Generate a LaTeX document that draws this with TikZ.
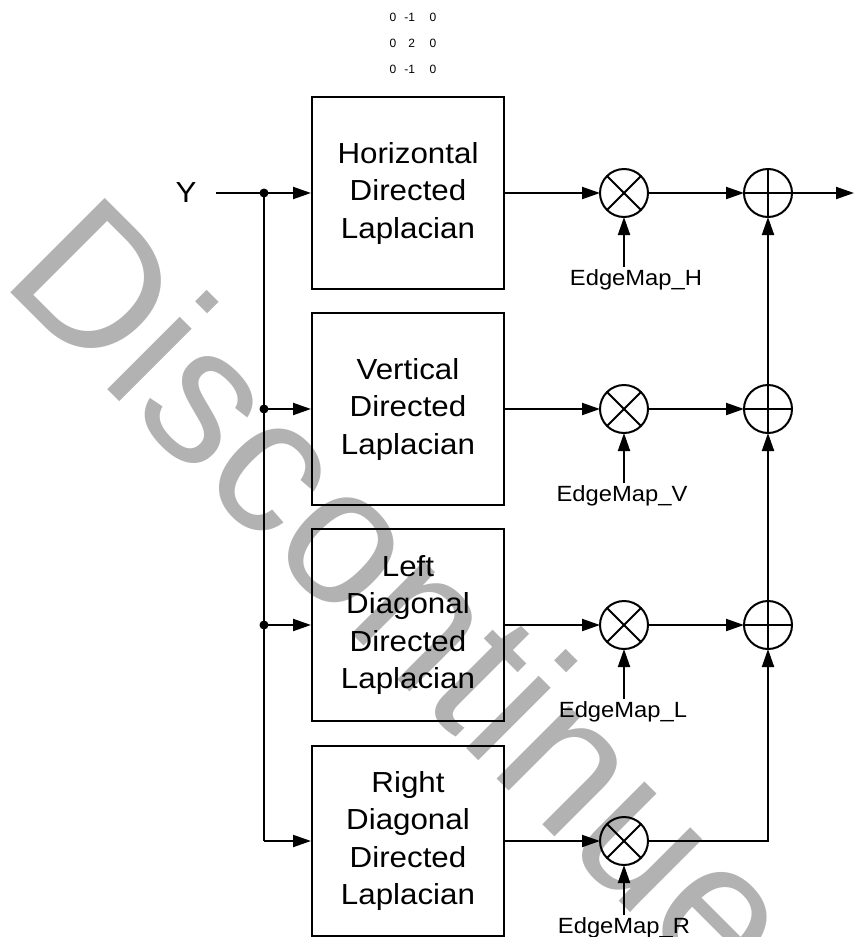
\documentclass[tikz,border=0pt]{standalone}
\usepackage{fontspec}
\setmainfont{Liberation Sans}
\newfontfamily\boxfont[FakeStretch=1.08]{Liberation Sans}
\usetikzlibrary{arrows.meta}
\definecolor{wmgray}{gray}{0.7}
\begin{document}
\begin{tikzpicture}[x=1pt,y=-1pt,line width=2pt,
  arr/.style={-{Triangle[length=18pt,width=12pt]}},
  lap/.style={draw, minimum width=192pt, minimum height=192pt, inner sep=0pt, align=center,
    font=\boxfont\fontsize{29}{37.5}\selectfont},
  opcirc/.style={draw, circle, minimum size=48pt, inner sep=0pt, outer sep=0pt},
  elbl/.style={anchor=base, inner sep=1pt, font=\boxfont\fontsize{22}{26}\selectfont},
  jdot/.style={circle, fill, inner sep=0pt, minimum size=9pt}]
\useasboundingbox (0,0) rectangle (854,937);
\clip (0,0) rectangle (854,937);

% watermark
\node[rotate=-45, anchor=base west, inner sep=0pt, text=wmgray,
  font=\fontsize{194}{194}\selectfont] (wm) at (-1,281) {Discontinue};

% kernel
\node[inner sep=0pt, font=\fontsize{12}{26}\selectfont] (kern) at (413,42)
  {\begin{tabular}{@{}c@{\hspace{8pt}}r@{\hspace{14.5pt}}c@{}}0&-1&0\\0&2&0\\0&-1&0\end{tabular}};

% input
\node[anchor=base, inner sep=0pt, font=\boxfont\fontsize{29}{37.5}\selectfont] (Y) at (186,202) {Y};
\coordinate (yin) at (216,193);
\coordinate (j1) at (264,193);
\coordinate (j2) at (264,409);
\coordinate (j3) at (264,625);
\coordinate (j4) at (264,841);

% boxes
\node[lap] (H) at (408,193) {Horizontal\\Directed\\Laplacian};
\node[lap] (V) at (408,409) {Vertical\\Directed\\Laplacian};
\node[lap] (L) at (408,625) {Left\\Diagonal\\Directed\\Laplacian};
\node[lap, minimum height=190pt] (R) at (408,841) {Right\\Diagonal\\Directed\\Laplacian};

% multipliers
\foreach \n/\y in {mH/193, mV/409, mL/625, mR/841}{
  \node[opcirc] (\n) at (624,\y) {};
  \draw (\n.north west) -- (\n.south east) (\n.north east) -- (\n.south west);
}
% adders
\foreach \n/\y in {aH/193, aV/409, aL/625}{
  \node[opcirc] (\n) at (768,\y) {};
  \draw (\n.north) -- (\n.south) (\n.west) -- (\n.east);
}
\coordinate (out) at (854,193);

% labels
\node[elbl] (eH) at (636,285) {EdgeMap\_H};
\node[elbl] (eV) at (622,501) {EdgeMap\_V};
\node[elbl] (eL) at (623,717) {EdgeMap\_L};
\node[elbl] (eR) at (624,933) {EdgeMap\_R};

% input distribution
\draw (yin) -- (j1);
\draw (j1) -- (j4);
\draw[arr] (j1) -- (H.west);
\draw[arr] (j2) -- (V.west);
\draw[arr] (j3) -- (L.west);
\draw[arr] (j4) -- (R.west);
\node[jdot] (d1) at (j1) {};
\node[jdot] (d2) at (j2) {};
\node[jdot] (d3) at (j3) {};

% rows
\draw[arr] (H.east) -- (mH.west);
\draw[arr] (V.east) -- (mV.west);
\draw[arr] (L.east) -- (mL.west);
\draw[arr] (R.east) -- (mR.west);
\draw[arr] (mH.east) -- (aH.west);
\draw[arr] (mV.east) -- (aV.west);
\draw[arr] (mL.east) -- (aL.west);
\draw[arr] (mR.east) -| (aL.south);
\draw[arr] (aL.north) -- (aV.south);
\draw[arr] (aV.north) -- (aH.south);
\draw[arr] (aH.east) -- (out);

% edge maps
\draw[arr] (eH.north -| mH.south) -- (mH.south);
\draw[arr] (eV.north -| mV.south) -- (mV.south);
\draw[arr] (eL.north -| mL.south) -- (mL.south);
\draw[arr] (eR.north -| mR.south) -- (mR.south);
\end{tikzpicture}
\end{document}
